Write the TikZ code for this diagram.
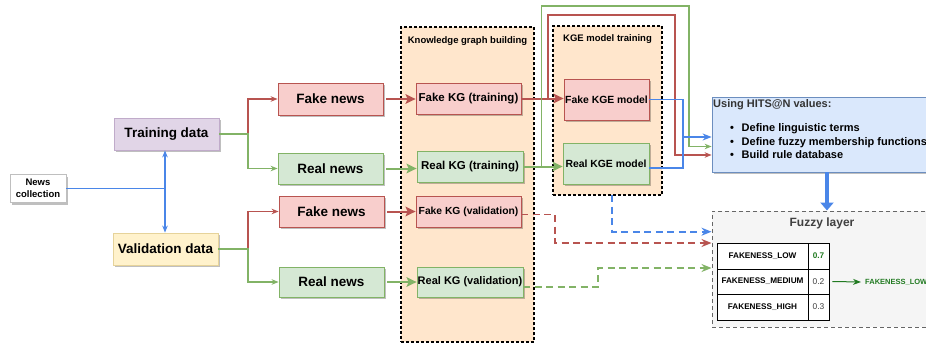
\documentclass[tikz,border=0pt]{standalone}
\usepackage{fontspec}
\setmainfont{Liberation Sans}
\usetikzlibrary{arrows.meta,shadows,calc}
\definecolor{redE}{HTML}{B85450}
\definecolor{redF}{HTML}{F8CECC}
\definecolor{grnE}{HTML}{82B366}
\definecolor{grnF}{HTML}{D5E8D4}
\definecolor{purE}{HTML}{9673A6}
\definecolor{purF}{HTML}{E1D5E7}
\definecolor{yelE}{HTML}{D6B656}
\definecolor{yelF}{HTML}{FFF2CC}
\definecolor{orgF}{HTML}{FFE6CC}
\definecolor{bluE}{HTML}{6C8EBF}
\definecolor{bluF}{HTML}{DAE8FC}
\definecolor{bluL}{HTML}{4A86E8}
\definecolor{gryF}{HTML}{F5F5F5}
\definecolor{gryE}{HTML}{666666}
\definecolor{dkgrn}{HTML}{217A21}
\newcommand\fbig{\fontsize{13.5}{16}\selectfont\bfseries}
\newcommand\fmid{\fontsize{11}{13}\selectfont\bfseries}
\newcommand\fsml{\fontsize{9.5}{11.7}\selectfont\bfseries}
\newcommand\ftab{\fontsize{8.2}{10}\selectfont\bfseries}
\begin{document}
\begin{tikzpicture}[x=1pt,y=-1pt,
  shd/.style={drop shadow={shadow xshift=1.5pt,shadow yshift=-2pt,opacity=0.25,fill=black}},
  box/.style={draw, line width=0.8pt, inner sep=1pt, align=center, shd},
  fakebox/.style={box, fill=redF, draw=redE},
  realbox/.style={box, fill=grnF, draw=grnE},
  contbox/.style={draw=black, fill=orgF, line width=1.3pt, dash pattern=on 3pt off 2pt, inner sep=0pt},
  cell/.style={draw=black, fill=white, line width=0.8pt, inner sep=0pt, font=\ftab},
  thinr/.style={draw=redE, line width=1.1pt},
  thing/.style={draw=grnE, line width=1.1pt},
  thinb/.style={draw=bluL, line width=1.2pt},
  stip/.style={-{Stealth[length=7pt,width=5.5pt]}},
  btip/.style={-{Stealth[length=10pt,width=9.5pt,inset=2pt]}},
  thickr/.style={draw=redE, line width=2pt, btip, shorten <=3pt},
  thickg/.style={draw=grnE, line width=2pt, btip, shorten <=3pt},
  dashr/.style={draw=redE, line width=1.6pt, dash pattern=on 7pt off 4.5pt, -{Stealth[length=10pt,width=8pt]}},
  dashg/.style={draw=grnE, line width=1.6pt, dash pattern=on 7pt off 4.5pt, -{Stealth[length=10pt,width=8pt]}},
  dashb/.style={draw=bluL, line width=1.6pt, dash pattern=on 7pt off 4.5pt, -{Stealth[length=10pt,width=8pt]}}
]
\useasboundingbox (0,0) rectangle (926,343);
\clip (0,0) rectangle (926,343);
\fill[white] (0,0) rectangle (926,343);

% containers
\node[contbox, minimum width=133pt, minimum height=315pt] (kgb) at (467.5,184.5) {};
\node[font=\fsml, anchor=north] (kgbt) at (467.5,33) {Knowledge graph building};
\node[contbox, minimum width=109pt, minimum height=169pt] (kgt) at (607.5,110.5) {};
\node[font=\fsml, anchor=north] (kgtt) at (607.5,31.5) {KGE model training};

% left nodes
\node[box, fill=white, draw=gray!50, minimum width=56pt, minimum height=28pt, font=\fsml, inner sep=0pt] (news) at (38,188.5) {News\\collection};
\node[box, fill=purF, draw=purE!60, minimum width=105pt, minimum height=32pt, font=\fbig] (train) at (166.5,134) {Training data};
\node[box, fill=yelF, draw=yelE!60, minimum width=105pt, minimum height=32pt, font=\fbig] (valid) at (165.5,249) {Validation data};

\node[fakebox, minimum width=105pt, minimum height=32pt, font=\fbig] (fn1) at (330.5,99) {Fake news};
\node[realbox, minimum width=105pt, minimum height=31pt, font=\fbig] (rn1) at (330.5,168.5) {Real news};
\node[fakebox, minimum width=105pt, minimum height=31pt, font=\fbig] (fn2) at (331.5,211.5) {Fake news};
\node[realbox, minimum width=105pt, minimum height=30pt, font=\fbig] (rn2) at (331.5,282) {Real news};

% KG nodes
\node[fakebox, minimum width=105pt, minimum height=31pt, font=\fontsize{11.5}{13}\selectfont\bfseries] (fkg1) at (468.5,98.5) {Fake KG (training)};
\node[realbox, minimum width=106pt, minimum height=31pt, font=\fontsize{11.5}{13}\selectfont\bfseries] (rkg1) at (470,166.5) {Real KG (training)};
\node[fakebox, minimum width=105pt, minimum height=31pt, font=\fontsize{10.3}{12}\selectfont\bfseries] (fkg2) at (468.5,211.5) {Fake KG (validation)};
\node[realbox, minimum width=106pt, minimum height=30pt, font=\fontsize{11}{13}\selectfont\bfseries, inner sep=0pt] (rkg2) at (470,282) {Real KG (validation)};

% KGE nodes
\node[fakebox, minimum width=85pt, minimum height=41pt, font=\fontsize{10.4}{12}\selectfont\bfseries] (fkge) at (606.5,99.5) {Fake KGE model};
\node[realbox, minimum width=86pt, minimum height=41pt, font=\fontsize{10.4}{12}\selectfont\bfseries] (rkge) at (606,163.5) {Real KGE model};

% HITS box
\node[box, fill=bluF, draw=bluE, minimum width=230pt, minimum height=75pt] (hits) at (827,134.5) {};
\node[anchor=base west, font=\fmid, text=black!80, inner sep=0pt] (hitst) at (713,107.8) {Using HITS@N values:};
\node[anchor=base west, font=\fmid, inner sep=0pt] (b1) at (741.5,131.3) {Define linguistic terms};
\node[anchor=base west, font=\fmid, inner sep=0pt] (b2) at (741.5,145) {Define fuzzy membership functions};
\node[anchor=base west, font=\fmid, inner sep=0pt] (b3) at (741.5,158.6) {Build rule database};
\node[anchor=base, font=\fmid, inner sep=0pt] (d1) at (732,131.3) {•};
\node[anchor=base, font=\fmid, inner sep=0pt] (d2) at (732,145) {•};
\node[anchor=base, font=\fmid, inner sep=0pt] (d3) at (732,158.6) {•};

% Fuzzy layer
\node[draw=gryE, fill=gryF, line width=1pt, dash pattern=on 4pt off 3pt, minimum width=220pt, minimum height=116pt] (fuzzy) at (822,269) {};
\node[font=\fontsize{12}{14}\selectfont\bfseries, text=black!75] (fuzzyt) at (822,223.5) {Fuzzy layer};
\node[cell, minimum width=91pt, minimum height=26pt] (c1) at (762.5,256) {FAKENESS\_LOW};
\node[cell, minimum width=91pt, minimum height=25pt] (c2) at (762.5,281.5) {FAKENESS\_MEDIUM};
\node[cell, minimum width=91pt, minimum height=26pt] (c3) at (762.5,307) {FAKENESS\_HIGH};
\node[cell, minimum width=21pt, minimum height=26pt, text=dkgrn] (v1) at (818.5,256) {0.7};
\node[cell, minimum width=21pt, minimum height=25pt, font=\fontsize{8.4}{10}\selectfont, text=black!75] (v2) at (818.5,281.5) {0.2};
\node[cell, minimum width=21pt, minimum height=26pt, font=\fontsize{8.4}{10}\selectfont, text=black!75] (v3) at (818.5,307) {0.3};
\node[anchor=west, font=\fontsize{7.5}{9}\selectfont\bfseries, text=dkgrn, inner sep=0pt] (outl) at (865,282) {FAKENESS\_LOW};
\draw[draw=dkgrn, line width=1pt, -{Stealth[length=8pt,width=6pt]}] ($(v2.east)+(3,0)$) -- ($(outl.west)+(-4,0)$);

% blue input lines
\coordinate (j0) at (165,188.5);
\draw[thinb] (news.east) -- (j0);
\draw[thinb, stip] (j0) -- (j0 |- train.south);
\draw[thinb, stip] (j0) -- (j0 |- valid.north);

% branches
\coordinate (j1) at (248,134);
\coordinate (j2) at (248,249);
\draw[thinr, stip] (train.east) -- (j1) |- (fn1.west);
\draw[thing, stip] (train.east) -- (j1) |- (rn1.west);
\draw[thinr, stip] (valid.east) -- (j2) |- (fn2.west);
\draw[thing, stip] (valid.east) -- (j2) |- (rn2.west);

% thick arrows news -> KG
\draw[thickr] (fn1.east) -- (fn1.east -| fkg1.west);
\draw[thickg] (rn1.east) -- (rn1.east -| rkg1.west);
\draw[thickr] (fn2.east) -- (fn2.east -| fkg2.west);
\draw[thickg] (rn2.east) -- (rn2.east -| rkg2.west);

% KG -> KGE
\draw[thickr, shorten <=0pt] (fkg1.east) -- (fkg1.east -| fkge.west);
\draw[thickg, shorten <=0pt] (rkg1.east) -- (rkg1.east -| rkge.west);

% thin loops to HITS
\coordinate (r0) at (548,98.5);
\coordinate (r1) at (675,15);
\coordinate (r2) at (675,155);
\draw[thinr, stip] (r0) |- (r1) -- (r2) -- (r2 -| hits.west);
\coordinate (g0) at (541.7,166.5);
\coordinate (g1) at (689,6);
\coordinate (g2) at (689,146.5);
\draw[thing, stip] (g0) |- (g1) -- (g2) -- (g2 -| hits.west);

% blue bracket
\coordinate (bk1) at (683,99.5);
\coordinate (bk2) at (683,168);
\coordinate (bk3) at (683,137);
\draw[thinb] (fkge.east) -- (bk1) -- (bk2) -- (bk2 -| rkge.east);
\draw[thinb, line width=1.4pt, -{Stealth[length=9pt,width=7pt]}] (bk3) -- (bk3 -| hits.west);

% big blue arrow
\draw[draw=bluL, line width=4.5pt, -{Triangle[length=8pt,width=13pt]}] (hits.south) -- ($(fuzzy.north)+(5,0)$);

% dashed lines to fuzzy
\coordinate (db0) at (612,195);
\coordinate (db1) at (612,231.7);
\draw[dashb] (db0) -- (db1) -- (db1 -| fuzzy.west);
\coordinate (dr0) at (521,214.5);
\coordinate (dr1) at (555,214.5);
\coordinate (dr2) at (555,243);
\draw[dashr] (dr0) -- (dr1) -- (dr2) -- (dr2 -| fuzzy.west);
\coordinate (dg0) at (523,287);
\coordinate (dg1) at (598,287);
\coordinate (dg2) at (598,268);
\draw[dashg] (dg0) -- (dg1) -- (dg2) -- (dg2 -| fuzzy.west);
\end{tikzpicture}
\end{document}
